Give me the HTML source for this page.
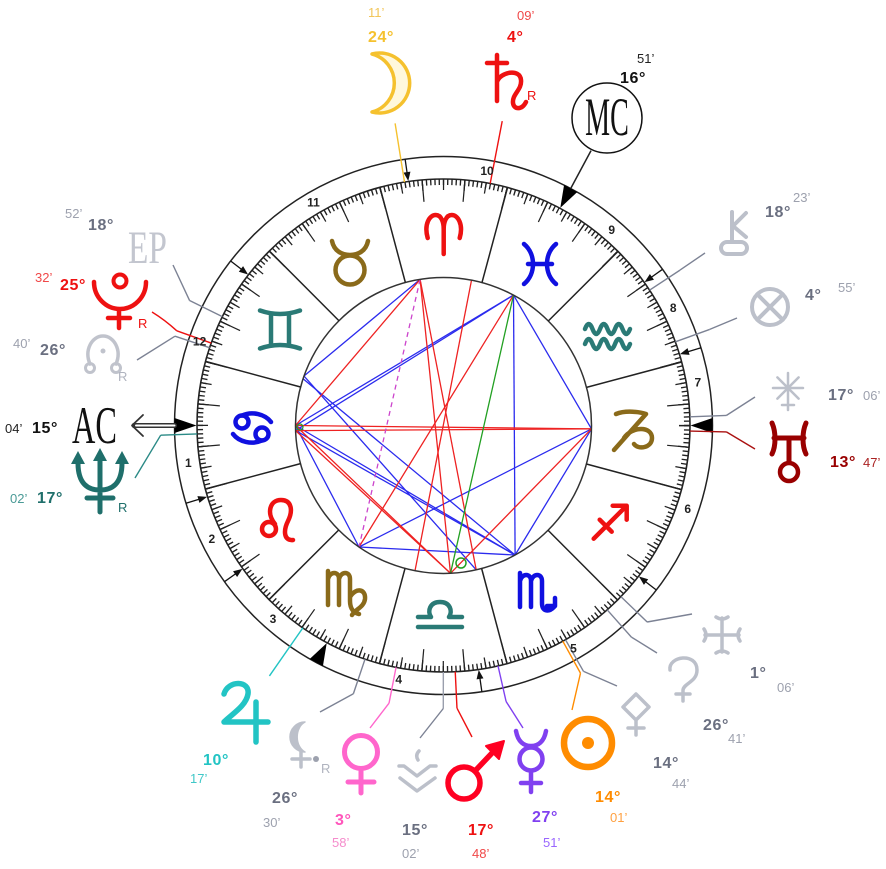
<!DOCTYPE html>
<html><head><meta charset="utf-8">
<style>
html,body{margin:0;padding:0;background:#fff;}
svg{display:block;}
text{font-family:"Liberation Sans",Arial,sans-serif;}
.d{font-weight:bold;font-size:16px;letter-spacing:0.6px}
.m{font-size:13px}
.h{font-weight:bold;font-size:12px;fill:#222}
.sf{font-family:"Liberation Serif","Times New Roman",serif;}
</style></head><body>
<svg width="886" height="869" viewBox="0 0 886 869" xmlns="http://www.w3.org/2000/svg">
<rect width="886" height="869" fill="#fff"/>

<!-- aspect lines -->
<g stroke-width="1.3" fill="none">
 <g stroke="#2b2bee">
  <line x1="420.1" y1="279.4" x2="304.0" y2="376.0"/>
  <line x1="513.5" y1="295.1" x2="295.5" y2="425.5"/>
  <line x1="513.5" y1="295.1" x2="295.6" y2="430.6"/>
  <line x1="513.5" y1="295.1" x2="515.1" y2="555.0"/>
  <line x1="513.5" y1="295.1" x2="591.5" y2="428.9"/>
  <line x1="304.0" y1="376.0" x2="476.2" y2="569.8"/>
  <line x1="303.1" y1="378.8" x2="515.1" y2="555.0"/>
  <line x1="295.5" y1="425.5" x2="515.1" y2="555.0"/>
  <line x1="295.6" y1="430.6" x2="515.1" y2="555.0"/>
  <line x1="295.5" y1="425.5" x2="359.0" y2="547.0"/>
  <line x1="359.0" y1="547.0" x2="591.5" y2="428.9"/>
  <line x1="359.0" y1="547.0" x2="515.1" y2="555.0"/>
  <line x1="591.5" y1="428.9" x2="515.1" y2="555.0"/>
 </g>
 <g stroke="#ee2222">
  <line x1="420.1" y1="279.4" x2="295.5" y2="425.5"/>
  <line x1="420.1" y1="279.4" x2="450.5" y2="573.3"/>
  <line x1="420.1" y1="279.4" x2="476.2" y2="569.8"/>
  <line x1="471.5" y1="280.2" x2="415.0" y2="570.7"/>
  <line x1="513.5" y1="295.1" x2="359.0" y2="547.0"/>
  <line x1="295.5" y1="425.5" x2="591.5" y2="428.9"/>
  <line x1="295.6" y1="430.6" x2="591.5" y2="428.9"/>
  <line x1="295.5" y1="425.5" x2="450.5" y2="573.3"/>
  <line x1="295.6" y1="430.6" x2="450.5" y2="573.3"/>
  <line x1="591.5" y1="428.9" x2="450.5" y2="573.3"/>
 </g>
 <line x1="513.5" y1="295.1" x2="450.5" y2="573.3" stroke="#22a022"/>
 <line x1="420.1" y1="279.4" x2="359.0" y2="547.0" stroke="#cc44cc" stroke-dasharray="5 4"/>
 <circle cx="461" cy="563" r="5" stroke="#22a022" stroke-width="1.5"/>
 <circle cx="300" cy="427" r="3" stroke="#22a022" stroke-width="1.2"/>
</g>

<!-- wheel -->
<g transform="translate(443.5,425.5)" fill="none" stroke="#222">
 <circle r="269" stroke-width="1.5"/>
 <circle r="246.5" stroke-width="1.6"/>
 <circle r="148" stroke="#333" stroke-width="1.5"/>
 <circle r="243.5" stroke="#222" stroke-width="6" pathLength="360" stroke-dasharray="0.32 0.68" stroke-dashoffset="0.09"/>
 <circle r="241" stroke="#222" stroke-width="11" pathLength="360" stroke-dasharray="0.3 4.7" stroke-dashoffset="0.08"/>
 <circle r="235.5" stroke="#222" stroke-width="22" pathLength="360" stroke-dasharray="0.3 9.7" stroke-dashoffset="-4.92"/>

 <g stroke="#222" stroke-width="1.5">
  <line x1="148" x2="246.5" transform="rotate(-164.93)"/>
  <line x1="148" x2="246.5" transform="rotate(-194.93)"/>
  <line x1="148" x2="246.5" transform="rotate(-224.93)"/>
  <line x1="148" x2="246.5" transform="rotate(-254.93)"/>
  <line x1="148" x2="246.5" transform="rotate(-284.93)"/>
  <line x1="148" x2="246.5" transform="rotate(-314.93)"/>
  <line x1="148" x2="246.5" transform="rotate(-344.93)"/>
  <line x1="148" x2="246.5" transform="rotate(-14.93)"/>
  <line x1="148" x2="246.5" transform="rotate(-44.93)"/>
  <line x1="148" x2="246.5" transform="rotate(-74.93)"/>
  <line x1="148" x2="246.5" transform="rotate(-104.93)"/>
  <line x1="148" x2="246.5" transform="rotate(-134.93)"/>
 </g>

 <!-- house cusp arrows -->
 <g stroke="#111" stroke-width="1.3">
  <g transform="rotate(-196.8)"><line x1="254" x2="269"/><polygon points="247,0 256,-3.5 256,3.5" fill="#111" stroke="none"/></g>
  <g transform="rotate(-215.5)"><line x1="254" x2="269"/><polygon points="247,0 256,-3.5 256,3.5" fill="#111" stroke="none"/></g>
  <g transform="rotate(-278.2)"><line x1="254" x2="269"/><polygon points="247,0 256,-3.5 256,3.5" fill="#111" stroke="none"/></g>
  <g transform="rotate(-322.3)"><line x1="254" x2="269"/><polygon points="247,0 256,-3.5 256,3.5" fill="#111" stroke="none"/></g>
  <g transform="rotate(-16.8)"><line x1="254" x2="269"/><polygon points="247,0 256,-3.5 256,3.5" fill="#111" stroke="none"/></g>
  <g transform="rotate(-35.5)"><line x1="254" x2="269"/><polygon points="247,0 256,-3.5 256,3.5" fill="#111" stroke="none"/></g>
  <g transform="rotate(-98.2)"><line x1="254" x2="269"/><polygon points="247,0 256,-3.5 256,3.5" fill="#111" stroke="none"/></g>
  <g transform="rotate(-142.3)"><line x1="254" x2="269"/><polygon points="247,0 256,-3.5 256,3.5" fill="#111" stroke="none"/></g>
 </g>
 <!-- angle triangles -->
 <g fill="#000" stroke="none">
  <polygon points="247,0 269,-7.5 269,7.5" transform="rotate(-180)"/>
  <polygon points="247,0 269,-7.5 269,7.5" transform="rotate(0)"/>
  <polygon points="247,0 269,-7.5 269,7.5" transform="rotate(-61.78)"/>
  <polygon points="247,0 269,-7.5 269,7.5" transform="rotate(-241.78)"/>
 </g>
 <!-- MC line -->
 <line x1="269" x2="312" transform="rotate(-61.78)" stroke="#222" stroke-width="1.5"/>

 <!-- planet radial lines -->
 <g stroke-width="1.4">
  <line x1="246.5" x2="306" transform="rotate(-99.1)" stroke="#f5c12e"/>
  <line x1="246.5" x2="310" transform="rotate(-79.08)" stroke="#ee1111"/>
  <line x1="246.5" x2="283" transform="rotate(-33.3)" stroke="#7c8294"/>
  <line x1="246.5" x2="283" transform="rotate(-19.85)" stroke="#7c8294"/>
  <line x1="246.5" x2="283" transform="rotate(-2.03)" stroke="#7c8294"/>
  <line x1="246.5" x2="283" transform="rotate(-358.7)" stroke="#aa1111"/>
  <line x1="246.5" x2="283" transform="rotate(-316.03)" stroke="#7c8294"/>
  <line x1="246.5" x2="283" transform="rotate(-311.6)" stroke="#7c8294"/>
  <line x1="246.5" x2="283" transform="rotate(-299.66)" stroke="#7c8294"/>
  <line x1="246.5" x2="283" transform="rotate(-298.95)" stroke="#ff8c00"/>
  <line x1="246.5" x2="283" transform="rotate(-282.78)" stroke="#8040f0"/>
  <line x1="246.5" x2="283" transform="rotate(-272.73)" stroke="#ee1111"/>
  <line x1="246.5" x2="283" transform="rotate(-269.96)" stroke="#9a9fad"/>
  <line x1="246.5" x2="283" transform="rotate(-258.9)" stroke="#ff66cc"/>
  <line x1="246.5" x2="283" transform="rotate(-251.43)" stroke="#7c8294"/>
  <line x1="246.5" x2="305" transform="rotate(-235.2)" stroke="#22c4c4"/>
  <line x1="246.5" x2="283" transform="rotate(-181.96)" stroke="#2a8a86"/>
  <line x1="246.5" x2="283" transform="rotate(-161.6)" stroke="#7c8294"/>
  <line x1="246.5" x2="283" transform="rotate(-160.46)" stroke="#ee1111"/>
  <line x1="246.5" x2="283" transform="rotate(-153.8)" stroke="#7c8294"/>
 </g>
</g>

<!-- bend segments -->
<g fill="none" stroke-width="1.4">
 <line x1="680" y1="270.1" x2="705" y2="253" stroke="#7c8294"/>
 <line x1="709.7" y1="329.4" x2="737" y2="318" stroke="#7c8294"/>
 <line x1="726.3" y1="415.5" x2="755" y2="397" stroke="#7c8294"/>
 <line x1="726.4" y1="431.9" x2="755" y2="449" stroke="#aa1111"/>
 <line x1="647.1" y1="622" x2="692" y2="614" stroke="#7c8294"/>
 <line x1="631.4" y1="637.1" x2="657" y2="653" stroke="#7c8294"/>
 <line x1="583.6" y1="671.4" x2="617" y2="686" stroke="#7c8294"/>
 <line x1="580.5" y1="673.1" x2="572" y2="710" stroke="#ff8c00"/>
 <line x1="506.1" y1="701.5" x2="523" y2="728" stroke="#8040f0"/>
 <line x1="457" y1="708.2" x2="472" y2="737" stroke="#ee1111"/>
 <line x1="443.3" y1="708.5" x2="420" y2="738" stroke="#7c8294"/>
 <line x1="389" y1="703.2" x2="370" y2="728" stroke="#ff66cc"/>
 <line x1="353.4" y1="693.8" x2="320" y2="712" stroke="#7c8294"/>
 <line x1="160.7" y1="435.2" x2="135" y2="478" stroke="#2a8a86"/>
 <line x1="175" y1="336.2" x2="137" y2="360" stroke="#7c8294"/>
 <path d="M176.8,330.8 Q165,320 152,312" stroke="#ee1111"/>
 <line x1="189.6" y1="300.6" x2="173" y2="265" stroke="#7c8294"/>
</g>

<!-- house numbers -->
<g text-anchor="middle">
 <text class="h" x="188.3" y="467.2">1</text>
 <text class="h" x="211.9" y="543.2">2</text>
 <text class="h" x="273" y="623.2">3</text>
 <text class="h" x="398.7" y="683.6">4</text>
 <text class="h" x="573.5" y="652.4">5</text>
 <text class="h" x="687.7" y="512.9">6</text>
 <text class="h" x="697.9" y="386.5">7</text>
 <text class="h" x="673.2" y="312">8</text>
 <text class="h" x="611.7" y="233.9">9</text>
 <text class="h" x="487" y="175.2">10</text>
 <text class="h" x="313.5" y="206.6">11</text>
 <text class="h" x="199.6" y="345.5">12</text>
</g>

<!-- zodiac signs -->
<g fill="none" stroke-width="4.5" stroke-linecap="round" stroke-linejoin="round">
 <path transform="translate(443.7,234)" stroke="#ee1111" d="M-16,4 C-20,-10 -14,-19 -8,-19 C-2,-19 0,-11 0,-5 L0,20 M0,-5 C0,-11 2,-19 8,-19 C14,-19 20,-10 16,4"/>
 <g transform="translate(350,262)" stroke="#8a6a1a"><circle cx="0" cy="8" r="14.5"/><path d="M-18,-21 C-16,-11 -8,-7 0,-7 C8,-7 16,-11 18,-21"/></g>
 <path transform="translate(280,329.5)" stroke="#2a7a76" d="M-20,-19 Q0,-12 20,-19 M-20,19 Q0,12 20,19 M-9,-15 L-9,15 M9,-15 L9,15"/>
 <g transform="translate(252,428)" stroke="#1010e0"><circle cx="-10" cy="-6" r="6.5"/><circle cx="10" cy="6" r="6.5"/><path d="M-10,-12.5 C0,-17 13,-14 19,-6 M10,12.5 C0,17 -13,14 -19,6"/></g>
 <g transform="translate(278,521)" stroke="#ee1111"><circle cx="-9" cy="8" r="7"/><path d="M-3,3 C-12,-8 -8,-21 3,-21 C14,-21 15,-10 10,0 C5,10 6,20 15,19"/></g>
 <path transform="translate(346,591)" stroke="#8a6a1a" d="M-18,-20 L-18,14 M-18,-12 C-16,-20 -7,-20 -7,-12 L-7,14 M-7,-12 C-5,-20 4,-20 4,-12 L4,10 C4,18 8,22 13,23 M4,6 C10,-4 20,-2 19,8 C18,16 10,18 6,24"/>
 <path transform="translate(440,615)" stroke="#2a7a76" d="M-22,12 L22,12 M-22,2 L-9,2 C-13,-4 -10,-13 0,-13 C10,-13 13,-4 9,2 L22,2"/>
 <path transform="translate(538,593)" stroke="#1010e0" d="M-18,-20 L-18,14 M-18,-12 C-16,-20 -7,-20 -7,-12 L-7,14 M-7,-12 C-5,-20 4,-20 4,-12 L4,10 C4,18 10,20 16,14 M9,13 L17,13 L17,5"/>
 <path transform="translate(609.7,521.7)" stroke="#ee1111" d="M-16,17 L16,-15 M3,-16 L17,-16 L17,-2 M-10,-2 L2,10"/>
 <path transform="translate(632,430)" stroke="#8a6a1a" d="M-16,-16 C-6,-20 8,-18 14,-16 L-18,20 M-8,8 C0,-4 20,-4 20,8 C20,18 6,20 2,14"/>
 <path transform="translate(607,335)" stroke="#2a7a76" d="M-22,-6 q3.75,-10 7.5,0 t7.5,0 t7.5,0 t7.5,0 t7.5,0 t7.5,0 M-22,9 q3.75,-10 7.5,0 t7.5,0 t7.5,0 t7.5,0 t7.5,0 t7.5,0"/>
 <path transform="translate(540,264)" stroke="#1010e0" d="M-16,-20 C-4,-10 -4,10 -16,20 M16,-20 C4,-10 4,10 16,20 M-12,0 L12,0"/>
</g>

<!-- planet glyphs -->
<g fill="none" stroke-linecap="round" stroke-linejoin="round">
 <path d="M372,54 A30,30 0 1 1 372,112 A30,30 0 0 0 372,54 Z" stroke="#f5c12e" stroke-width="3.5" fill="#fff8dc"/>
 <path d="M497,55 L497,101 M487,63 L507,63 M497,82 C500,72 520,68 521,80 C522,90 512,94 513,103 C514,110 522,110 526,102" stroke="#ee1111" stroke-width="4.5"/>
 <circle cx="607" cy="118" r="35" stroke="#111" stroke-width="1.5" fill="#fff"/>
 <path d="M732,212 L732,242 M746,213 L733,226 L746,237" stroke="#bcc0ca" stroke-width="4"/>
 <rect x="721" y="242" width="26" height="12" rx="6" stroke="#bcc0ca" stroke-width="4"/>
 <circle cx="770" cy="307" r="18" stroke="#bcc0ca" stroke-width="4"/>
 <path d="M757.3,294.3 L782.7,319.7 M782.7,294.3 L757.3,319.7" stroke="#bcc0ca" stroke-width="4"/>
 <path d="M788,373 L788,410 M773,388 L803,388 M777.4,377.4 L798.6,398.6 M798.6,377.4 L777.4,398.6 M782,405 L794,405" stroke="#bcc0ca" stroke-width="2.5"/>
 <path d="M772,423 C776,432 776,446 772,454 M806,423 C802,432 802,446 806,454 M774,438 L804,438 M789,438 L789,462" stroke="#990000" stroke-width="5"/>
 <circle cx="789" cy="472" r="9" stroke="#990000" stroke-width="4.5"/>
 <path d="M722,618 L722,652 M705,635 L739,635 M716,617 Q722,621 728,617 M716,653 Q722,649 728,653 M704,629 Q708,635 704,641 M740,629 Q736,635 740,641" stroke="#bcc0ca" stroke-width="3.5"/>
 <path d="M670,670 C668,656 697,652 697,670 C697,682 684,683 683,690 L683,701 M676,694 L690,694" stroke="#bcc0ca" stroke-width="3.5"/>
 <path d="M636,694 L649,707 L636,720 L623,707 Z M636,720 L636,735 M628,728 L644,728" stroke="#bcc0ca" stroke-width="3.5"/>
 <circle cx="588" cy="743" r="24" stroke="#ff8c00" stroke-width="6.5"/>
 <circle cx="588" cy="743" r="6" fill="#ff8c00" stroke="none"/>
 <path d="M516,731 C518,742 524,746 531,746 C538,746 544,742 546,731 M531,771 L531,792 M521,783 L541,783" stroke="#8040f0" stroke-width="4.5"/>
 <circle cx="531" cy="759" r="11.5" stroke="#8040f0" stroke-width="4.5"/>
 <circle cx="464" cy="783" r="16" stroke="#ff0022" stroke-width="5.5"/>
 <path d="M475,771 L493,752" stroke="#ff0022" stroke-width="5.5"/>
 <polygon points="504,741 486,746 499,759" fill="#ff0022" stroke="#ff0022" stroke-width="2"/>
 <path d="M399,766 L404,766 L417,776 L430,766 L436,766 M400,778 L417,791 L435,778 M419,751 Q415,755 418,760" stroke="#bcc0ca" stroke-width="3.5"/>
 <circle cx="361" cy="752" r="16.5" stroke="#ff66cc" stroke-width="5"/>
 <path d="M361,771 L361,793 M348,782 L374,782" stroke="#ff66cc" stroke-width="5"/>
 <path d="M305,722 A15,15 0 1 0 305,752 A12,16 0 0 1 305,722 Z" fill="#bcc0ca" stroke="#bcc0ca" stroke-width="1.5"/>
 <path d="M301,752 L301,767 M292,759 L310,759" stroke="#bcc0ca" stroke-width="3.5"/>
 <circle cx="316" cy="759" r="3" fill="#9da1ae" stroke="none"/>
 <path d="M224,694 C228,680 250,680 248,694 C246,706 232,714 224,722 L268,722 M256,702 L256,742" stroke="#22c4c4" stroke-width="5.5"/>
 <path d="M78,463 C78,484 88,490 100,490 C112,490 122,484 122,463 M100,458 L100,512 M87,498 L113,498" stroke="#1f6f6b" stroke-width="5"/>
 <g fill="#1f6f6b" stroke="none">
  <polygon points="78,451 71,464 85,464"/>
  <polygon points="100,448 93,461 107,461"/>
  <polygon points="122,451 115,464 129,464"/>
 </g>
 <path d="M90,364 C84,350 92,336 103,336 C114,336 122,350 116,364" stroke="#c0c3cc" stroke-width="3.5"/>
 <circle cx="90" cy="368" r="4.5" stroke="#c0c3cc" stroke-width="3"/>
 <circle cx="116" cy="368" r="4.5" stroke="#c0c3cc" stroke-width="3"/>
 <circle cx="103" cy="351" r="2.5" fill="#c0c3cc" stroke="none"/>
 <circle cx="120" cy="281" r="6.5" stroke="#ee1111" stroke-width="4"/>
 <path d="M94,282 A26,27 0 0 0 146,282 M119,309 L119,328 M108,318 L130,318" stroke="#ee1111" stroke-width="4.5"/>
 <line x1="134" y1="425.5" x2="174.5" y2="425.5" stroke="#333" stroke-width="5"/>
 <line x1="136" y1="425.5" x2="174.5" y2="425.5" stroke="#fff" stroke-width="2"/>
 <path d="M143,415 L132,425.5 L143,436" stroke="#333" stroke-width="1.8"/>
</g>

<text class="sf" font-size="53" fill="#111" transform="translate(72,443) scale(0.61,1)">AC</text>
<text class="sf" font-size="54" fill="#111" text-anchor="middle" transform="translate(607,135) scale(0.52,1)">MC</text>
<text class="sf" font-size="47" fill="#c3c6cf" transform="translate(128,263) scale(0.71,1)">EP</text>

<g font-size="13">
 <text x="527" y="100" fill="#ee1111">R</text>
 <text x="138" y="328" fill="#ee1111">R</text>
 <text x="118" y="381" fill="#b0b4bf">R</text>
 <text x="118" y="512" fill="#1f6f6b">R</text>
 <text x="321" y="773" fill="#b0b4bf">R</text>
</g>

<text class="m" x="368" y="17" fill="#f2c65a">11’</text>
<text class="d" x="368" y="42" fill="#f5c12e">24°</text>
<text class="m" x="517" y="20" fill="#f04848">09’</text>
<text class="d" x="507" y="42" fill="#ee1111">4°</text>
<text class="m" x="637" y="63" fill="#222">51’</text>
<text class="d" x="620" y="83" fill="#111">16°</text>

<text class="m" x="65" y="218" fill="#9da1ae">52’</text>
<text class="d" x="88" y="230" fill="#6a6f80">18°</text>
<text class="m" x="35" y="282" fill="#f04848">32’</text>
<text class="d" x="60" y="290" fill="#ee1111">25°</text>
<text class="m" x="13" y="348" fill="#9da1ae">40’</text>
<text class="d" x="40" y="355" fill="#6a6f80">26°</text>
<text class="m" x="5" y="433" fill="#222">04’</text>
<text class="d" x="32" y="433" fill="#111">15°</text>
<text class="m" x="10" y="503" fill="#4a9a96">02’</text>
<text class="d" x="37" y="503" fill="#1f6f6b">17°</text>

<text class="d" x="765" y="217" fill="#6a6f80">18°</text>
<text class="m" x="793" y="202" fill="#9da1ae">23’</text>
<text class="d" x="805" y="300" fill="#6a6f80">4°</text>
<text class="m" x="838" y="292" fill="#9da1ae">55’</text>
<text class="d" x="828" y="400" fill="#6a6f80">17°</text>
<text class="m" x="863" y="400" fill="#9da1ae">06’</text>
<text class="d" x="830" y="467" fill="#990000">13°</text>
<text class="m" x="863" y="467" fill="#aa2222">47’</text>

<text class="d" x="750" y="678" fill="#6a6f80">1°</text>
<text class="m" x="777" y="692" fill="#9da1ae">06’</text>
<text class="d" x="703" y="730" fill="#6a6f80">26°</text>
<text class="m" x="728" y="743" fill="#9da1ae">41’</text>
<text class="d" x="653" y="768" fill="#6a6f80">14°</text>
<text class="m" x="672" y="788" fill="#9da1ae">44’</text>
<text class="d" x="595" y="802" fill="#ff8c00">14°</text>
<text class="m" x="610" y="822" fill="#ffa040">01’</text>

<text class="d" x="532" y="822" fill="#8040f0">27°</text>
<text class="m" x="543" y="847" fill="#9966ff">51’</text>
<text class="d" x="468" y="835" fill="#ee1111">17°</text>
<text class="m" x="472" y="858" fill="#f04848">48’</text>
<text class="d" x="402" y="835" fill="#6a6f80">15°</text>
<text class="m" x="402" y="858" fill="#9da1ae">02’</text>
<text class="d" x="335" y="825" fill="#ff55bb">3°</text>
<text class="m" x="332" y="847" fill="#f58ccc">58’</text>
<text class="d" x="272" y="803" fill="#6a6f80">26°</text>
<text class="m" x="263" y="827" fill="#9da1ae">30’</text>
<text class="d" x="203" y="765" fill="#22c4c4">10°</text>
<text class="m" x="190" y="783" fill="#40c8c8">17’</text>
</svg>
</body></html>
